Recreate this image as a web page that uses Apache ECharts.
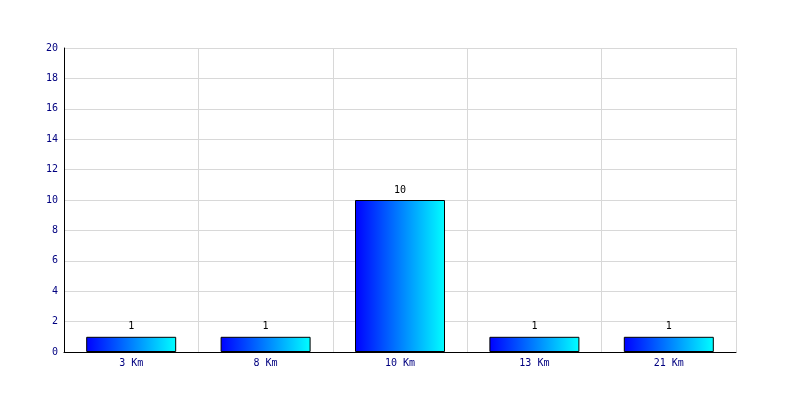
<!DOCTYPE html>
<html><head><meta charset="utf-8">
<script src="https://cdn.jsdelivr.net/npm/echarts@6/dist/echarts.min.js"></script>
<style>html,body{margin:0;padding:0;background:#fff}#c{width:800px;height:400px}</style>
</head><body><div id="c"></div>
<script>
var categories = ['3 Km', '8 Km', '10 Km', '13 Km', '21 Km'];
var values = [1, 1, 10, 1, 1];
var yTicks = {min: 0, max: 20, interval: 2};
var font = 'DejaVu Sans Mono';
var chart = echarts.init(document.getElementById('c'), null, {renderer: 'canvas'});
chart.setOption({
  animation: false,
  backgroundColor: '#fff',
  grid: {left: 64, right: 64, top: 48, bottom: 48, containLabel: false},
  xAxis: {
    type: 'category', data: categories,
    axisLine: {lineStyle: {color: '#000', width: 1}},
    axisTick: {show: false},
    axisLabel: {color: '#000080', fontFamily: font, fontSize: 10, margin: 6},
    splitLine: {show: true, interval: 0, lineStyle: {color: '#d8d8d8', width: 1}}
  },
  yAxis: {
    type: 'value', min: yTicks.min, max: yTicks.max, interval: yTicks.interval,
    axisLine: {show: true, lineStyle: {color: '#000', width: 1}},
    axisTick: {show: false},
    axisLabel: {color: '#000080', fontFamily: font, fontSize: 10, margin: 6},
    splitLine: {show: true, lineStyle: {color: '#d8d8d8', width: 1}}
  },
  series: [{
    type: 'bar', data: values, barWidth: 90,
    itemStyle: {
      borderColor: '#000', borderWidth: 1,
      color: new echarts.graphic.LinearGradient(0, 0, 1, 0, [
        {offset: 0, color: '#0000ff'}, {offset: 1, color: '#00ffff'}
      ])
    },
    label: {show: true, position: 'top', color: '#000', fontFamily: font, fontSize: 10, distance: 5}
  }]
});
</script></body></html>
